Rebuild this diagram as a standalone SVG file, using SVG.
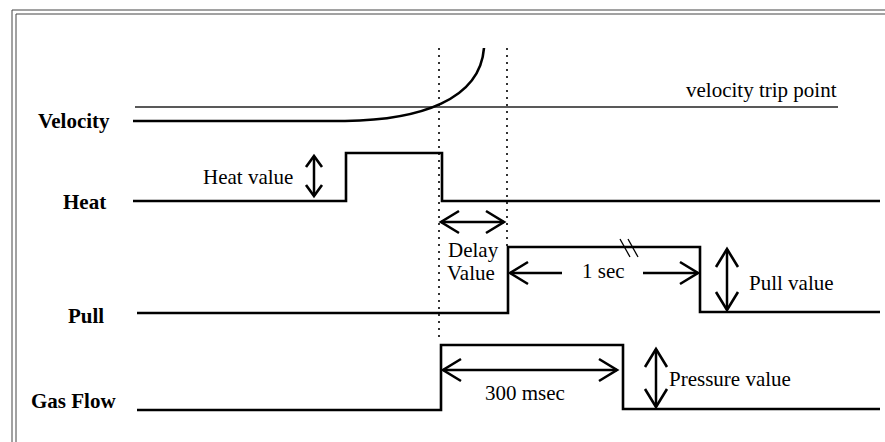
<svg xmlns="http://www.w3.org/2000/svg" width="885" height="442" viewBox="0 0 885 442">
<style>
.lbl{font-family:"Liberation Serif","Times New Roman",serif;font-weight:bold;font-size:21px;fill:#000}
.txt{font-family:"Liberation Serif","Times New Roman",serif;font-size:21px;fill:#000}
.wave{fill:none;stroke:#000;stroke-width:2.6;stroke-linejoin:miter}
.thin{fill:none;stroke:#222;stroke-width:1.3}
.dot{fill:none;stroke:#000;stroke-width:1.6;stroke-dasharray:2 5}
.arr{fill:none;stroke:#000;stroke-width:2.5}
.border{fill:none;stroke:#444;stroke-width:1}
</style>
<defs>
<marker id="ah" markerUnits="userSpaceOnUse" viewBox="-20 -14 24 28" refX="0" refY="0" markerWidth="24" markerHeight="28" orient="auto-start-reverse">
<path d="M-18,-11 L0,0 L-18,11" fill="none" stroke="#000" stroke-width="2.6"/>
</marker>
<marker id="ahs" markerUnits="userSpaceOnUse" viewBox="-14 -11 18 22" refX="0" refY="0" markerWidth="18" markerHeight="22" orient="auto-start-reverse">
<path d="M-11,-8 L0,0 L-11,8" fill="none" stroke="#000" stroke-width="2.6"/>
</marker>
</defs>
<rect width="885" height="442" fill="#fff"/>
<g id="frame">
<path class="border" d="M12,442 L12,10 L885,10"/>
<path class="border" d="M16,442 L16,14 L885,14"/>
</g>
<g id="velocity">
<text class="lbl" x="38" y="128">Velocity</text>
<line class="thin" x1="135" y1="107" x2="838" y2="107"/>
<path class="wave" d="M133,121 L345,121 C420,120 480,100 484,48"/>
<text class="txt" x="686" y="97">velocity trip point</text>
</g>
<g id="heat">
<text class="lbl" x="63" y="209">Heat</text>
<path class="wave" d="M133,201 L346,201 L346,153 L442,153 L442,201 L880,201"/>
<text class="txt" x="203" y="184">Heat value</text>
</g>
<g id="pull">
<text class="lbl" x="68" y="323">Pull</text>
<path class="wave" d="M137,313 L508,313 L508,247 L700,247 L700,312 L880,312"/>
<line x1="620" y1="239" x2="630" y2="257" stroke="#000" stroke-width="1.3"/>
<line x1="628" y1="239" x2="638" y2="257" stroke="#000" stroke-width="1.3"/>
<text class="txt" x="582" y="278">1 sec</text>
<text class="txt" x="749" y="290">Pull value</text>
</g>
<g id="gasflow">
<text class="lbl" x="31" y="408">Gas Flow</text>
<path class="wave" d="M137,410 L441,410 L441,345 L623,345 L623,409 L880,409"/>
<text class="txt" x="485" y="400">300 msec</text>
<text class="txt" x="669" y="386">Pressure value</text>
</g>
<g id="delay">
<text class="txt" x="448" y="257">Delay</text>
<text class="txt" x="447" y="280">Value</text>
</g>
<g id="connectors">
<line class="dot" x1="439" y1="48" x2="439" y2="337"/>
<line class="dot" x1="507" y1="48" x2="507" y2="247"/>
<line class="arr" x1="314" y1="156" x2="314" y2="196" marker-start="url(#ahs)" marker-end="url(#ahs)"/>
<line class="arr" x1="441" y1="222" x2="504" y2="222" marker-start="url(#ah)" marker-end="url(#ah)"/>
<line class="arr" x1="562" y1="273" x2="510" y2="273" marker-end="url(#ah)"/>
<line class="arr" x1="643" y1="273" x2="698" y2="273" marker-end="url(#ah)"/>
<line class="arr" x1="727" y1="249" x2="727" y2="310" marker-start="url(#ah)" marker-end="url(#ah)"/>
<line class="arr" x1="443" y1="370" x2="617" y2="370" marker-start="url(#ah)" marker-end="url(#ah)"/>
<line class="arr" x1="656" y1="349" x2="656" y2="407" marker-start="url(#ah)" marker-end="url(#ah)"/>
</g>
</svg>
